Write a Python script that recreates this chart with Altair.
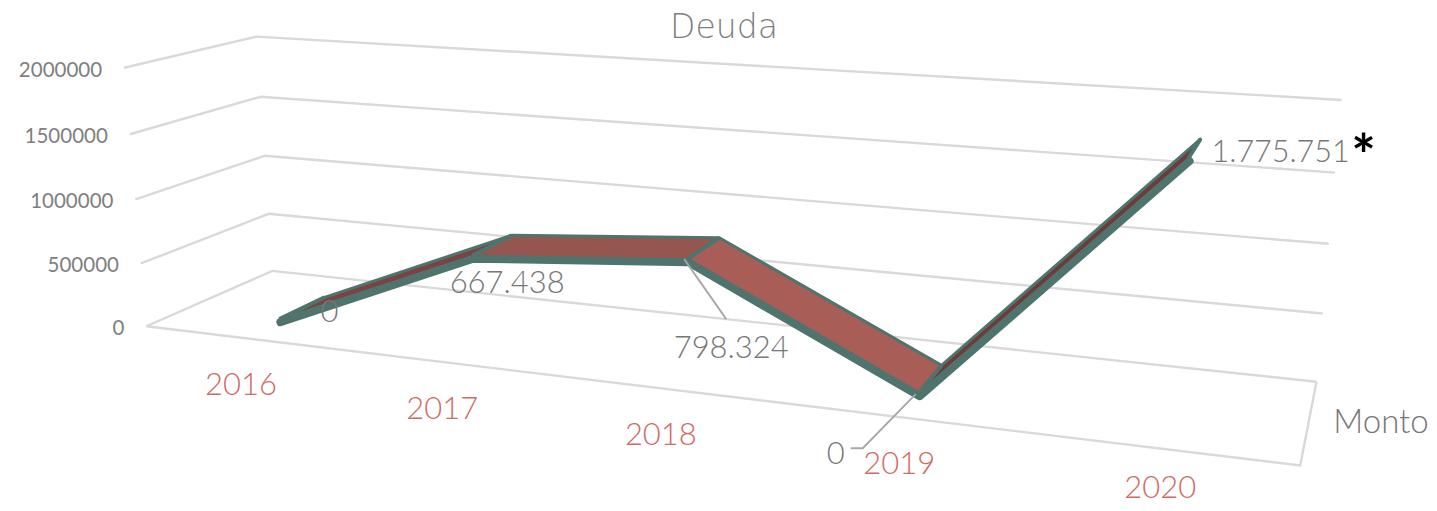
import altair as alt
import numpy as np
import pandas as pd

YEARS = ["2016", "2017", "2018", "2019", "2020"]
MONTO = [0, 667438, 798324, 0, 1775751]
LABELS = ["0", "667.438", "798.324", "0", "1.775.751"]
TICKS = [0, 500000, 1000000, 1500000, 2000000]
VMAX = 2000000

# Perspective camera: fitted from the box corners seen in the picture (u, v, w) -> screen
BOX = [((0, 0, 0), (147, 327)), ((0, 0, 1), (272, 271)), ((1, 0, 1), (1316, 381)),
       ((1, 0, 0), (1300, 466)), ((0, 1, 0), (124, 68)), ((0, 1, 1), (257, 37)),
       ((1, 1, 1), (1341, 100)), ((0, .5, 0), (135, 198)), ((1, .5, 1), (1330, 244))]
A = []
for (u, v, w), (x, y) in BOX:
    A.append([u, v, w, 1, 0, 0, 0, 0, -x*u, -x*v, -x*w, -x])
    A.append([0, 0, 0, 0, u, v, w, 1, -y*u, -y*v, -y*w, -y])
P = np.linalg.svd(np.array(A, float))[2][-1].reshape(3, 4)


def proj(u, v, w):
    q = P @ np.array([u, v, w, 1.0])
    return float(q[0] / q[2]), float(q[1] / q[2])


def envelope(poly):
    xs = sorted(p[0] for p in poly)
    out = []
    for x in xs:
        ys = []
        n = len(poly)
        for i in range(n):
            (x0, y0), (x1, y1) = poly[i], poly[(i + 1) % n]
            if min(x0, x1) <= x <= max(x0, x1):
                if x0 == x1:
                    ys += [y0, y1]
                else:
                    ys.append(y0 + (y1 - y0) * (x - x0) / (x1 - x0))
        out.append((x, min(ys), max(ys)))
    return out


WF, WB = 0.30, 0.68
US = [(i + .5) / 5 for i in range(5)]
front = [proj(u, m / VMAX, WF) for u, m in zip(US, MONTO)]
back = [proj(u, m / VMAX, WB) for u, m in zip(US, MONTO)]

SEG_COLORS = ["#7a4242", "#95564f", "#a85d57", "#6e3a3a"]
rows = []
for i in range(4):
    poly = [front[i], front[i + 1], back[i + 1], back[i]]
    for x, y0, y1 in envelope(poly):
        rows.append(dict(seg=i, color=SEG_COLORS[i], x=x, y=y0, y2=y1))
quads = pd.DataFrame(rows)

grid = []
for t in TICKS:
    v = t / VMAX
    for k, (u, w) in enumerate([(0, 0), (0, 1), (1, 1)]):
        x, y = proj(u, v, w)
        grid.append(dict(id=f"g{t}", o=k, x=x, y=y))
for k, (u, w) in enumerate([(0, 0), (1, 0), (1, 1)]):
    x, y = proj(u, 0, w)
    grid.append(dict(id="floor", o=k, x=x, y=y))
grid = pd.DataFrame(grid)

# the ribbon's front face hangs just below the surface's front edge
front_df = pd.DataFrame([dict(o=i, x=p[0] + 1, y=p[1] + 3) for i, p in enumerate(front)])
back_df = pd.DataFrame([dict(o=i, x=p[0], y=p[1]) for i, p in enumerate(back)])
joints = pd.DataFrame([dict(id=i, o=k, x=p[0], y=p[1])
                       for i in range(5) for k, p in enumerate([front[i], back[i]])])

# the last year label is lifted slightly so that it stays inside the canvas
CAT_DY = [48, 48, 48, 48, 40]
cats = []
for i, y in enumerate(YEARS):
    x0, y0 = proj(US[i], 0, 0)
    cats.append(dict(t=y, x=x0, y=y0 + CAT_DY[i]))
cats = pd.DataFrame(cats)

ticks = []
for t in TICKS:
    x0, y0 = proj(0, t / VMAX, 0)
    ticks.append(dict(t=str(t), x=x0 - 22, y=y0 + 3))
ticks = pd.DataFrame(ticks)

LAB_OFF = [(50, -6), (35, 28), (44, 90), (-83, 62)]
labs = []
for i, l in enumerate(LABELS[:4]):
    labs.append(dict(t=l, x=front[i][0] + LAB_OFF[i][0], y=front[i][1] + LAB_OFF[i][1]))
labs = pd.DataFrame(labs)
lab_end = pd.DataFrame([dict(t=LABELS[4], x=front[4][0] + 23, y=front[4][1] - 5)])
star = pd.DataFrame([dict(t="*", x=front[4][0] + 175, y=front[4][1] + 1)])

LEAD = [(2, 0, -3, 0), (2, 1, 39, 60), (3, 0, -3, 1), (3, 1, -56, 55), (3, 2, -68, 55)]
lead = pd.DataFrame([dict(id=i, o=o, x=front[i][0] + dx, y=front[i][1] + dy)
                     for i, o, dx, dy in LEAD])

X = alt.X("x:Q", scale=alt.Scale(domain=[8, 1429], nice=False, zero=False), axis=None)
Y = alt.Y("y:Q", scale=alt.Scale(domain=[503, 8], nice=False, zero=False), axis=None)
GREEN = "#4f746e"
FONT = "Lato"
GREY = "#777777"

layers = [
    alt.Chart(grid).mark_line(color="#d9d9d9", strokeWidth=2.4).encode(
        X, Y, detail="id:N", order="o:Q"),
]
for i in [0, 1, 3, 2]:
    d = quads[quads.seg == i]
    layers.append(alt.Chart(d).mark_area(color=SEG_COLORS[i]).encode(X, Y, alt.Y2("y2:Q")))
layers += [
    alt.Chart(joints).mark_line(color=GREEN, strokeWidth=4).encode(X, Y, detail="id:N", order="o:Q"),
    alt.Chart(back_df).mark_line(color=GREEN, strokeWidth=3, strokeCap="round", strokeJoin="round").encode(
        X, Y, order="o:Q"),
    alt.Chart(front_df).mark_line(color=GREEN, strokeWidth=8, strokeCap="round", strokeJoin="round").encode(
        X, Y, order="o:Q"),
    alt.Chart(lead).mark_line(color="#a6a6a6", strokeWidth=1.8).encode(X, Y, detail="id:N", order="o:Q"),
    alt.Chart(cats).mark_text(font=FONT, fontSize=31, fontWeight=300, color="#cf6b66").encode(X, Y, text="t:N"),
    alt.Chart(ticks).mark_text(font=FONT, fontSize=20.5, color="#7f7f7f", align="right").encode(X, Y, text="t:N"),
    alt.Chart(labs).mark_text(font=FONT, fontSize=31, fontWeight=300, color=GREY).encode(X, Y, text="t:N"),
    alt.Chart(lab_end).mark_text(font=FONT, fontSize=30.5, fontWeight=300, color=GREY, align="left").encode(X, Y, text="t:N"),
    alt.Chart(star).mark_text(font=FONT, fontSize=58, fontWeight=700, color="#000000").encode(X, Y, text="t:N"),
    alt.Chart(pd.DataFrame([dict(t="Deuda")])).mark_text(font="DejaVu Sans", fontSize=33, fontWeight=200, color="#808080").encode(
        x=alt.value(716), y=alt.value(20), text="t:N"),
    alt.Chart(pd.DataFrame([dict(t="Monto")])).mark_text(font=FONT, fontSize=33, fontWeight=300, color=GREY).encode(
        x=alt.value(1373), y=alt.value(415), text="t:N"),
]

chart = alt.layer(*layers).properties(
    width=1421, height=495, padding=0,
    autosize=alt.AutoSizeParams(type="none"),
).configure_view(stroke=None)
chart.save("out.html", embed_options={"renderer": "svg", "actions": False})
